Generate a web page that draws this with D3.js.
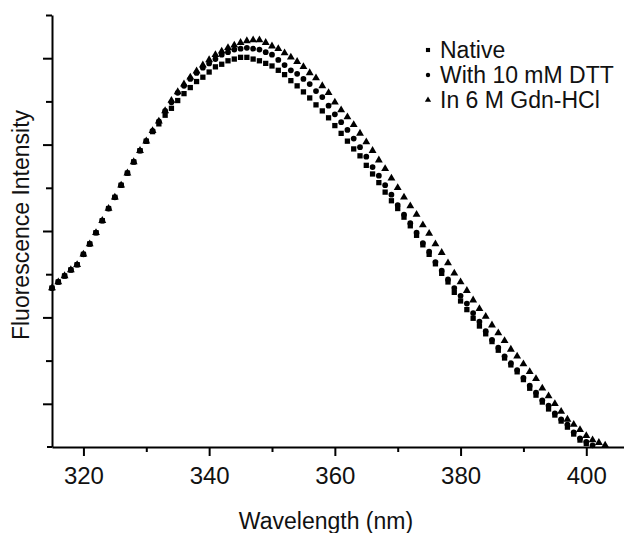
<!DOCTYPE html>
<html>
<head>
<meta charset="utf-8">
<script src="https://cdn.jsdelivr.net/npm/d3@7"></script>
<style>
  body { margin: 0; background: #fff; }
  svg { display: block; font-family: "Liberation Sans", Arial, Helvetica, sans-serif; }
</style>
</head>
<body>
<svg id="chart"></svg>
<script>
// Fluoreszenzspektren: nativ, mit DTT, in Gdn-HCl

const width = 624, height = 533;

// Wellenlängen in nm (1-nm-Raster)
const wavelengths = [
  315,316,317,318,319,320,321,322,323,324,325,326,327,328,329,330,
  331,332,333,334,335,336,337,338,339,340,341,342,343,344,345,346,347,348,349,350,
  351,352,353,354,355,356,357,358,359,360,361,362,363,364,365,366,367,368,369,370,
  371,372,373,374,375,376,377,378,379,380,381,382,383,384,385,386,387,388,389,390,
  391,392,393,394,395,396,397,398,399,400,401,402,403
];

// Intensität (willkürliche Einheiten)
const nativeValues = [
  184,191,198,205,211,223,235,248,262,276,289,303,317,330,343,354,
  365,374,384,392,401,409,416,423,428,434,440,443,447,449,451,451,449,447,444,441,
  436,431,424,418,411,404,396,389,381,372,363,354,345,337,326,316,306,295,285,276,
  266,256,245,234,223,212,201,191,179,169,159,149,140,131,122,112,103,95,87,78,
  68,60,52,44,37,30,23,15,8,4
];
const dttValues = [
  184,191,198,205,211,223,235,248,262,276,289,303,317,330,343,354,
  366,377,389,399,410,418,426,433,439,444,449,454,457,460,461,462,461,460,457,454,
  448,442,436,432,426,420,412,405,395,385,376,367,357,347,336,324,314,303,292,280,
  269,259,248,236,226,214,204,194,184,175,166,155,145,134,124,115,105,97,89,80,
  71,63,54,48,39,32,26,17,10,6,2
];
const gdnValues = [
  184,191,198,205,211,223,235,248,262,276,289,303,317,330,343,354,
  366,377,389,401,411,420,428,435,442,448,454,458,462,465,468,470,471,471,468,464,
  461,456,451,446,440,433,427,418,410,399,390,382,373,363,353,343,332,322,311,300,
  289,279,269,257,247,235,225,213,201,191,181,170,160,151,141,132,123,113,105,96,
  87,79,68,59,50,41,32,26,20,13,8,5,2
];

const seriesNames = ["Native", "With 10 mM DTT", "In 6 M Gdn-HCl"];

const xMajorTicks = [320, 340, 360, 380, 400];
const xMinorTicks = [330, 350, 370, 390];
const yMajorTicks = [50, 150, 250, 350, 450];
const yMinorTicks = [100, 200, 300, 400, 500];

const series = [
  { name: seriesNames[0], values: nativeValues, symbol: d3.symbolSquare,   size: 28, legendSize: 17 },
  { name: seriesNames[1], values: dttValues,    symbol: d3.symbolCircle,   size: 26, legendSize: 15 },
  { name: seriesNames[2], values: gdnValues,    symbol: d3.symbolTriangle, size: 27, legendSize: 17 }
];

const svg = d3.select("#chart")
  .attr("width", width)
  .attr("height", height);

svg.append("rect").attr("width", width).attr("height", height).attr("fill", "#fff");

const x = d3.scaleLinear().domain([315, 406]).range([52, 624]);
const y = d3.scaleLinear().domain([0, 500]).range([447, 15]);

// Achsen
const xAxisG = svg.append("g").attr("transform", `translate(0,${y(0)})`);
xAxisG.call(d3.axisBottom(x).tickValues(xMajorTicks).tickSize(9).tickSizeOuter(0).tickPadding(11));
xAxisG.append("g").call(d3.axisBottom(x).tickValues(xMinorTicks).tickSize(5).tickFormat(""))
  .select(".domain").remove();
xAxisG.append("line").attr("x1", 47).attr("x2", x(315));
xAxisG.selectAll("path, line").attr("stroke", "#000").attr("stroke-width", 2);
xAxisG.selectAll("text").attr("fill", "#111").style("font-size", "24px").attr("font-family", null);

const yAxisG = svg.append("g").attr("transform", `translate(${x(315)},0)`);
yAxisG.call(d3.axisLeft(y).tickValues(yMajorTicks).tickSize(9).tickSizeOuter(0).tickFormat(""));
yAxisG.append("g").call(d3.axisLeft(y).tickValues(yMinorTicks).tickSize(6).tickFormat(""))
  .select(".domain").remove();
yAxisG.selectAll("path, line").attr("stroke", "#000").attr("stroke-width", 2);

// Achsentitel
svg.append("text")
  .attr("x", 326).attr("y", 529)
  .attr("text-anchor", "middle")
  .style("font-size", "23px").attr("fill", "#111")
  .text("Wavelength (nm)");

svg.append("text")
  .attr("transform", "translate(29,225) rotate(-90)")
  .attr("text-anchor", "middle")
  .style("font-size", "23px").attr("fill", "#111")
  .text("Fluorescence Intensity");

// Messpunkte
series.forEach(s => {
  svg.append("g")
    .selectAll("path")
    .data(s.values.map((v, i) => ({ w: wavelengths[i], v })))
    .join("path")
    .attr("d", d3.symbol().type(s.symbol).size(s.size))
    .attr("transform", d => `translate(${x(d.w)},${y(d.v)})`)
    .attr("fill", "#000");
});

// Legende
const legend = svg.append("g").attr("transform", "translate(428,0)");
series.forEach((s, i) => {
  const row = legend.append("g").attr("transform", `translate(0,${50 + i * 25})`);
  row.append("path")
    .attr("d", d3.symbol().type(s.symbol).size(s.legendSize))
    .attr("fill", "#000");
  row.append("text")
    .attr("x", 12).attr("y", 8)
    .style("font-size", "23px").attr("fill", "#111")
    .text(s.name);
});
</script>
</body>
</html>
